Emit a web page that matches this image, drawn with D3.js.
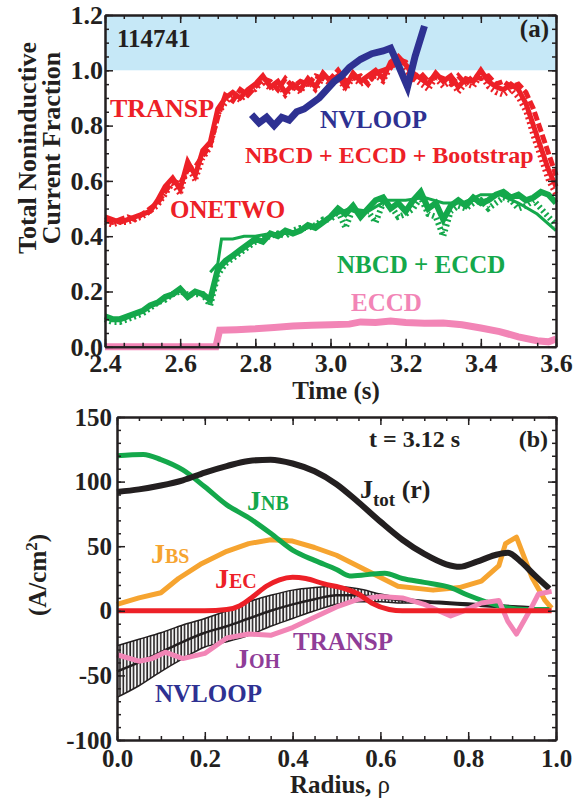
<!DOCTYPE html>
<html>
<head>
<meta charset="utf-8">
<script src="https://cdn.jsdelivr.net/npm/d3@7"></script>
<style>
  body { margin: 0; background: #fff; }
  svg text { font-family: "Liberation Serif", "Times New Roman", serif; font-weight: bold; }
  .ax path.domain { stroke: #231f20; stroke-width: 2; }
  .ax line { stroke: #231f20; stroke-width: 1.5; }
  .ax text { font-size: 25px; fill: #231f20; }
  .pa .ax text { font-size: 26px; }
</style>
</head>
<body>
<svg id="chart" width="583" height="800"></svg>
<script>
// ---- panel (a): noninductive current fraction vs time ----
const timeA = [2.40,2.42,2.44,2.46,2.48,2.50,2.52,2.54,2.56,2.58,
               2.60,2.62,2.64,2.66,2.68,2.70,2.72,2.74,2.76,2.78,
               2.80,2.82,2.84,2.86,2.88,2.90,2.92,2.94,2.96,2.98,
               3.00,3.02,3.04,3.06,3.08,3.10,3.12,3.14,3.16,3.18,
               3.20,3.22,3.24,3.26,3.28,3.30,3.32,3.34,3.36,3.38,
               3.40,3.42,3.44,3.46,3.48,3.50,3.52,3.54,3.56,3.58,
               3.60];
const totalTransp = [0.47,0.46,0.45,0.46,0.47,0.48,0.49,0.53,0.58,0.61,
                     0.57,0.67,0.62,0.71,0.74,0.86,0.90,0.92,0.90,0.93,
                     0.95,0.98,0.94,0.96,0.92,0.95,0.93,0.97,0.94,0.99,
                     0.96,0.98,0.94,0.99,0.96,0.98,1.00,0.97,1.03,1.05,
                     1.02,0.99,0.97,0.95,0.99,0.96,0.98,0.94,0.97,0.96,
                     1.00,0.96,0.94,0.93,0.95,0.93,0.88,0.80,0.72,0.64,
                     0.58];
const totalOnetwo = [0.46,0.45,0.46,0.47,0.46,0.48,0.50,0.52,0.56,0.60,
                     0.59,0.64,0.65,0.69,0.73,0.83,0.91,0.89,0.93,0.91,
                     0.94,0.97,0.96,0.93,0.97,0.94,0.96,0.95,0.98,0.97,
                     0.97,1.00,0.96,0.97,0.98,0.95,0.99,1.00,1.01,1.04,
                     1.03,0.97,0.99,0.96,0.98,0.97,0.95,0.98,0.95,0.98,
                     0.97,0.98,0.95,0.96,0.94,0.95,0.92,0.86,0.78,0.70,
                     0.62];
const totalAlt = [0.45,0.44,0.45,0.45,0.46,0.47,0.49,0.51,0.55,0.59,
                  0.55,0.65,0.60,0.68,0.72,0.84,0.88,0.91,0.89,0.92,
                  0.93,0.96,0.93,0.95,0.91,0.94,0.92,0.96,0.93,0.97,
                  0.95,0.97,0.93,0.97,0.95,0.96,0.98,0.96,1.01,1.03,
                  1.00,0.97,0.95,0.93,0.97,0.94,0.96,0.92,0.95,0.94,
                  0.98,0.94,0.92,0.91,0.93,0.90,0.85,0.76,0.68,0.60,
                  0.55];
const nbecTransp = [0.11,0.10,0.10,0.11,0.12,0.13,0.15,0.16,0.18,0.19,
                    0.21,0.18,0.20,0.19,0.17,0.28,0.31,0.33,0.35,0.37,
                    0.39,0.38,0.41,0.40,0.42,0.41,0.42,0.44,0.43,0.45,
                    0.47,0.50,0.48,0.51,0.47,0.50,0.53,0.54,0.50,0.52,
                    0.49,0.53,0.56,0.50,0.52,0.46,0.51,0.53,0.51,0.54,
                    0.52,0.53,0.55,0.56,0.54,0.55,0.53,0.54,0.56,0.55,
                    0.52];
const nbecOnetwo = [0.10,0.09,0.09,0.10,0.11,0.12,0.14,0.16,0.17,0.19,
                    0.20,0.19,0.19,0.19,0.15,0.26,0.30,0.32,0.34,0.36,
                    0.38,0.39,0.40,0.41,0.40,0.42,0.43,0.43,0.44,0.46,
                    0.46,0.49,0.43,0.50,0.48,0.49,0.45,0.52,0.51,0.47,
                    0.48,0.50,0.54,0.48,0.47,0.40,0.49,0.51,0.50,0.52,
                    0.53,0.50,0.52,0.54,0.53,0.50,0.51,0.53,0.50,0.47,
                    0.44];
const thinTime = [2.68,2.70,2.71,2.74,2.77,2.80,2.84,2.88,2.92,2.96,3.00,3.05,
                  3.10,3.15,3.20,3.25,3.30,3.35,3.40,3.45,3.50,3.55,3.60];
const nbecThin = [0.27,0.30,0.39,0.39,0.40,0.40,0.41,0.41,0.42,0.44,0.47,0.50,
                  0.49,0.53,0.53,0.54,0.52,0.52,0.55,0.55,0.52,0.48,0.42];
const eccdTime = [2.40,2.695,2.705,2.75,2.80,2.85,2.90,2.95,3.00,3.05,3.08,3.12,
                  3.16,3.20,3.25,3.30,3.35,3.40,3.45,3.50,3.55,3.58,3.60];
const eccdFrac = [0,0,0.06,0.062,0.065,0.07,0.075,0.078,0.08,0.082,0.09,0.088,
                  0.093,0.088,0.085,0.086,0.08,0.068,0.055,0.036,0.022,0.018,0.028];
const nvTime = [2.79,2.81,2.83,2.85,2.87,2.89,2.91,2.93,2.95,2.97,2.99,3.01,
                3.03,3.05,3.08,3.11,3.14,3.16,3.18,3.205,3.225,3.25];
const nvFrac = [0.84,0.81,0.83,0.80,0.83,0.82,0.85,0.86,0.88,0.90,0.93,0.96,
                0.98,1.01,1.04,1.06,1.07,1.08,1.02,0.94,1.05,1.16];
const timeTicks = [2.4,2.6,2.8,3.0,3.2,3.4,3.6];
const fracTicks = [0,0.2,0.4,0.6,0.8,1.0,1.2];

// ---- panel (b): current density profiles at t = 3.12 s ----
const rhoTot = [0,0.05,0.10,0.15,0.20,0.25,0.30,0.35,0.40,0.45,0.50,0.55,0.60,0.65,0.70,0.75,0.78,0.82,0.86,0.89,0.92,0.95,0.985];
const jTot   = [92,94,97,101,107,112,116,117,114,108,98,84,69,55,44,36,34,38,43,45,38,28,17];
const rhoNB = [0,0.06,0.10,0.15,0.20,0.25,0.30,0.35,0.40,0.45,0.50,0.53,0.57,0.61,0.65,0.70,0.76,0.80,0.84,0.88,0.93,0.985];
const jNB   = [120,121,117,109,96,82,72,60,47,39,32,27,28,29,25,22,18,12,7,3,1,1];
const rhoBS = [0,0.05,0.10,0.14,0.19,0.25,0.30,0.35,0.40,0.45,0.50,0.57,0.64,0.72,0.78,0.83,0.87,0.885,0.91,0.945,0.975,0.99];
const jBS   = [5,10,14,25,36,46,52,55,54,49,43,31,19,16,18,23,35,52,57,26,8,2];
const rhoEC = [0,0.10,0.20,0.25,0.28,0.31,0.34,0.37,0.40,0.43,0.47,0.52,0.55,0.58,0.62,0.65,0.80,0.99];
const jEC   = [0,0,0,1,4,11,19,24,26,25,21,17,13,6,1,0,0,0];
const rhoOH = [0,0.05,0.08,0.11,0.15,0.20,0.25,0.30,0.35,0.40,0.45,0.50,0.55,0.60,0.65,0.70,0.76,0.79,0.83,0.87,0.89,0.91,0.94,0.96,0.99];
const jOH   = [-34,-39,-37,-32,-37,-33,-21,-18,-19,-13,-5,3,9,11,10,5,-4,0,6,8,-8,-18,0,13,15];
const rhoNV = [0,0.05,0.10,0.15,0.20,0.25,0.30,0.35,0.40,0.45,0.50,0.55,0.60,0.65,0.70,0.75,0.80,0.85,0.90,0.95];
const jNV   = [-47,-40,-32,-24,-17,-12,-6,0,5,9,12,12,10,8,7,6,5,4,3,2];
const jNVerr = [20,18,15,13,11,12,13,12,11,9,7,5,3,2,1,1,1,1,1,1];
const rhoTicks = [0,0.2,0.4,0.6,0.8,1.0];
const jTicks = [-100,-50,0,50,100,150];

const RED = "#ed2027", BLUE = "#2e3192", GREEN = "#14a84b", PINK = "#f285b6",
      ORANGE = "#f6a430", PURPLE = "#8f3d98", INK = "#231f20", SKY = "#c6e8f7";

const svg = d3.select("#chart");

// hatch for the NVLOOP error band
svg.append("defs").append("pattern")
  .attr("id", "hatch").attr("patternUnits", "userSpaceOnUse")
  .attr("width", 3.4).attr("height", 10)
  .append("line").attr("x1", 1).attr("x2", 1).attr("y1", 0).attr("y2", 10)
  .attr("stroke", INK).attr("stroke-width", 1.6);

function frame(g, x, y, o) {
  const [xl, xr] = x.range(), [yb, yt] = y.range();
  const add = (axis, tx, ty) => g.append("g").attr("class", "ax")
    .attr("transform", `translate(${tx},${ty})`).call(axis);
  add(d3.axisBottom(x).tickValues(x.ticks(o.xn)).tickSize(-4).tickSizeOuter(0).tickFormat(""), 0, yb);
  add(d3.axisTop(x).tickValues(x.ticks(o.xn)).tickSize(-4).tickSizeOuter(0).tickFormat(""), 0, yt);
  add(d3.axisLeft(y).tickValues(y.ticks(o.yn)).tickSize(-4).tickSizeOuter(0).tickFormat(""), xl, 0);
  add(d3.axisRight(y).tickValues(y.ticks(o.yn)).tickSize(-4).tickSizeOuter(0).tickFormat(""), xr, 0);
  add(d3.axisBottom(x).tickValues(o.xMajor).tickSize(-8).tickSizeOuter(0).tickPadding(o.xPad).tickFormat(o.xFmt), 0, yb);
  add(d3.axisTop(x).tickValues(o.xMajor).tickSize(-8).tickSizeOuter(0).tickFormat(""), 0, yt);
  add(d3.axisLeft(y).tickValues(o.yMajor).tickSize(-8).tickSizeOuter(0).tickPadding(o.yPad).tickFormat(o.yFmt), xl, 0);
  add(d3.axisRight(y).tickValues(o.yMajor).tickSize(-8).tickSizeOuter(0).tickFormat(""), xr, 0);
}

function label(x, y, txt, color, size, anchor) {
  return svg.append("text").attr("x", x).attr("y", y).attr("fill", color)
    .attr("font-size", size).attr("text-anchor", anchor || "start").text(txt);
}
function jlabel(x, y, sub, color) {
  const t = svg.append("text").attr("x", x).attr("y", y).attr("fill", color);
  t.append("tspan").attr("font-size", 28).text("J");
  t.append("tspan").attr("font-size", 20).text(sub);
  return t;
}

// ===== panel (a) =====
const xa = d3.scaleLinear().domain([2.4, 3.6]).range([105, 556]);
const ya = d3.scaleLinear().domain([0, 1.2]).range([346.8, 15]);

svg.append("rect").attr("x", xa(2.4)).attr("y", ya(1.2))
  .attr("width", xa(3.6) - xa(2.4)).attr("height", ya(1.0) - ya(1.2)).attr("fill", SKY);

const lineA = (tt) => d3.line().x((d, i) => xa(tt[i])).y(d => ya(d));
function pathA(tt, vals, color, w, dash) {
  svg.append("path").datum(vals).attr("d", lineA(tt)).attr("fill", "none")
    .attr("stroke", color).attr("stroke-width", w).attr("stroke-linejoin", "miter")
    .attr("stroke-dasharray", dash || null);
}
pathA(timeA, nbecOnetwo, GREEN, 6, "2,3");
pathA(timeA, nbecTransp, GREEN, 6);
pathA(thinTime, nbecThin, GREEN, 3);
pathA(eccdTime, eccdFrac, PINK, 7);
pathA(timeA, totalAlt, RED, 5, "2,3");
pathA(timeA, totalOnetwo, RED, 5, "9,3");
pathA(timeA, totalTransp, RED, 5);
pathA(nvTime, nvFrac, BLUE, 7);

frame(svg.append("g").attr("class", "pa"), xa, ya, {
  xMajor: timeTicks, yMajor: fracTicks, xn: 24, yn: 24,
  xPad: 7, yPad: 2, xFmt: d3.format(".1f"), yFmt: d3.format(".1f")
});

label(117, 47, "114741", INK, 25);
label(549, 37, "(a)", INK, 25, "end");
label(110, 117, "TRANSP", RED, 26);
label(320, 128, "NVLOOP", BLUE, 25);
label(245, 163, "NBCD + ECCD + Bootstrap", RED, 24);
label(170, 218, "ONETWO", RED, 25);
label(337, 273, "NBCD + ECCD", GREEN, 25);
label(351, 311, "ECCD", PINK, 25);
label(336, 399, "Time (s)", INK, 25, "middle");
svg.append("text").attr("transform", "translate(36,148) rotate(-90)")
  .attr("text-anchor", "middle").attr("font-size", 26).attr("fill", INK).text("Total Noninductive");
svg.append("text").attr("transform", "translate(60,148) rotate(-90)")
  .attr("text-anchor", "middle").attr("font-size", 26).attr("fill", INK).text("Current Fraction");

// ===== panel (b) =====
const xb = d3.scaleLinear().domain([0, 1]).range([117, 556]);
const yb = d3.scaleLinear().domain([-100, 150]).range([740, 417]);

const upper = jNV.map((v, i) => v + jNVerr[i]);
const lower = jNV.map((v, i) => v - jNVerr[i]);
svg.append("path").datum(jNV)
  .attr("d", d3.area().curve(d3.curveMonotoneX).x((d, i) => xb(rhoNV[i]))
    .y0((d, i) => yb(lower[i])).y1((d, i) => yb(upper[i])))
  .attr("fill", "url(#hatch)");
const lineB = (rr, curve) => d3.line().curve(curve).x((d, i) => xb(rr[i])).y(d => yb(d));
function pathB(rr, vals, color, w, curve) {
  svg.append("path").datum(vals).attr("d", lineB(rr, curve || d3.curveMonotoneX)).attr("fill", "none")
    .attr("stroke", color).attr("stroke-width", w).attr("stroke-linejoin", "round");
}
pathB(rhoNV, upper, INK, 1.5);
pathB(rhoNV, lower, INK, 1.5);
pathB(rhoNV, jNV, INK, 2.5);
pathB(rhoBS, jBS, ORANGE, 5, d3.curveLinear);
pathB(rhoNB, jNB, GREEN, 5);
pathB(rhoTot, jTot, INK, 6);
pathB(rhoOH, jOH, PINK, 5, d3.curveLinear);
pathB(rhoEC, jEC, RED, 5);

frame(svg.append("g"), xb, yb, {
  xMajor: rhoTicks, yMajor: jTicks, xn: 20, yn: 25,
  xPad: 9, yPad: 5, xFmt: d3.format(".1f"), yFmt: d => String(d)
});

label(460, 447, "t = 3.12 s", INK, 24, "end");
label(548, 447, "(b)", INK, 24, "end");
const jt = svg.append("text").attr("x", 360).attr("y", 498).attr("fill", INK);
jt.append("tspan").attr("font-size", 26).text("J");
jt.append("tspan").attr("font-size", 19).attr("dy", 8).text("tot");
jt.append("tspan").attr("font-size", 26).attr("dy", -8).text(" (r)");
jlabel(247, 510, "NB", GREEN);
jlabel(151, 563, "BS", ORANGE);
jlabel(215, 588, "EC", RED);
jlabel(235, 668, "OH", PURPLE);
label(293, 650, "TRANSP", PURPLE, 25);
label(155, 702, "NVLOOP", BLUE, 25);
const rl = label(340, 793, "Radius,  ", INK, 25, "middle");
rl.append("tspan").attr("font-weight", "normal").text("ρ");
const yt = svg.append("text").attr("transform", "translate(46,575) rotate(-90)")
  .attr("text-anchor", "middle").attr("font-size", 25).attr("fill", INK);
yt.append("tspan").text("(A/cm");
yt.append("tspan").attr("font-size", 17).attr("dy", -9).text("2");
yt.append("tspan").attr("dy", 9).text(")");
</script>
</body>
</html>
